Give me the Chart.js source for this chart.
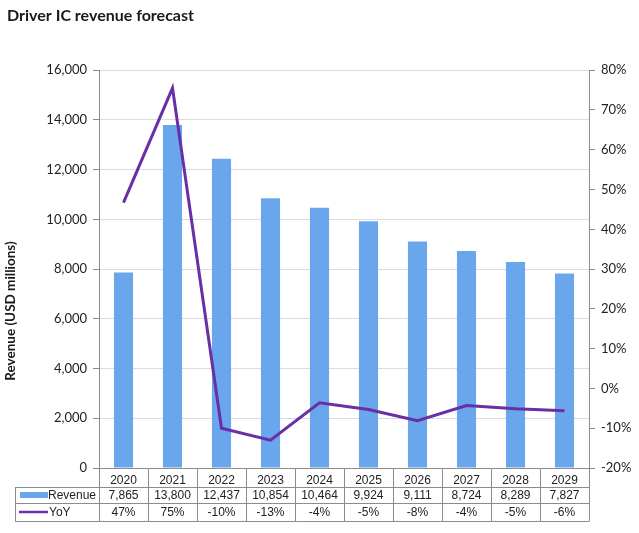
<!DOCTYPE html>
<html>
<head>
<meta charset="utf-8">
<script src="https://cdn.jsdelivr.net/npm/chart.js@4"></script>
<style>
  html, body { margin: 0; padding: 0; background: #fff; }
  #wrap { width: 639px; height: 533px; }
</style>
</head>
<body>
<div id="wrap"><canvas id="chart" width="639" height="533"></canvas></div>
<script>
const years = ['2020', '2021', '2022', '2023', '2024', '2025', '2026', '2027', '2028', '2029'];
const revenue = [7865, 13800, 12437, 10854, 10464, 9924, 9111, 8724, 8289, 7827];
const yoy = [46.7, 75.5, -10, -13, -3.6, -5.3, -8.1, -4.3, -5.1, -5.6];
const revenueLabels = ['7,865', '13,800', '12,437', '10,854', '10,464', '9,924', '9,111', '8,724', '8,289', '7,827'];
const yoyLabels = ['47%', '75%', '-10%', '-13%', '-4%', '-5%', '-8%', '-4%', '-5%', '-6%'];

const barColor = '#6aa6ec';
const lineColor = '#6a2ea6';
const tableFont = '12px "Liberation Sans Narrow", "Liberation Sans", Arial, sans-serif';

// data table under the x axis + y axis title (Excel centres it on plot + table)
const tablePlugin = {
  id: 'dataTable',
  afterDraw(chart) {
    const ctx = chart.ctx;
    const x = chart.scales.x;
    const area = chart.chartArea;
    const w = (area.right - area.left) / years.length;
    const rows = [area.bottom + 1, 487, 503, 521];
    const legLeft = 15;
    ctx.save();
    ctx.strokeStyle = '#8c8c8c';
    ctx.lineWidth = 1;
    ctx.beginPath();
    for (let i = 0; i <= years.length; i++) {
      const px = Math.round(area.left + i * w) + 0.5;
      ctx.moveTo(px, rows[0]);
      ctx.lineTo(px, rows[3]);
    }
    for (let r = 1; r < rows.length; r++) {
      ctx.moveTo(legLeft, rows[r] + 0.5);
      ctx.lineTo(Math.round(area.right) + 0.5, rows[r] + 0.5);
    }
    ctx.moveTo(legLeft + 0.5, rows[1]);
    ctx.lineTo(legLeft + 0.5, rows[3]);
    ctx.stroke();

    ctx.font = tableFont;
    ctx.fillStyle = '#222';
    ctx.textBaseline = 'middle';
    ctx.textAlign = 'center';
    years.forEach((y, i) => {
      const cx = x.getPixelForValue(i);
      ctx.fillText(revenueLabels[i], cx, (rows[1] + rows[2]) / 2 + 1);
      ctx.fillText(yoyLabels[i], cx, (rows[2] + rows[3]) / 2 + 1);
    });

    // legend keys
    ctx.fillStyle = barColor;
    ctx.fillRect(20, 492, 28, 6);
    ctx.strokeStyle = lineColor;
    ctx.lineWidth = 2.5;
    ctx.beginPath();
    ctx.moveTo(19, 512);
    ctx.lineTo(48, 512);
    ctx.stroke();
    ctx.fillStyle = '#222';
    ctx.textAlign = 'right';
    ctx.fillText('Revenue', 96, (rows[1] + rows[2]) / 2 + 1);
    ctx.textAlign = 'left';
    ctx.fillText('YoY', 49, (rows[2] + rows[3]) / 2 + 1);

    // y axis title
    ctx.translate(11, 311);
    ctx.rotate(-Math.PI / 2);
    ctx.font = 'bold 13.5px Lato, "Open Sans", sans-serif';
    ctx.fillStyle = '#1a1a1a';
    ctx.textAlign = 'center';
    ctx.fillText('Revenue (USD millions)', 0, 0);
    ctx.restore();
  }
};

new Chart(document.getElementById('chart'), {
  data: {
    labels: years,
    datasets: [
      {
        type: 'line',
        label: 'YoY',
        data: yoy,
        yAxisID: 'y2',
        borderColor: lineColor,
        borderWidth: 3,
        pointRadius: 0,
        tension: 0,
        order: 0
      },
      {
        type: 'bar',
        label: 'Revenue',
        data: revenue,
        yAxisID: 'y',
        backgroundColor: barColor,
        barPercentage: 0.39,
        categoryPercentage: 1,
        order: 1
      }
    ]
  },
  options: {
    responsive: false,
    animation: false,
    layout: { padding: { left: 7, right: 0, top: 0, bottom: 0 } },
    plugins: {
      legend: { display: false },
      tooltip: { enabled: false },
      title: {
        display: true,
        text: 'Driver IC revenue forecast',
        align: 'start',
        color: '#1a1a1a',
        font: { family: 'Lato, "Open Sans", sans-serif', size: 16, weight: 'bold' },
        padding: { top: 6, bottom: 45 }
      }
    },
    scales: {
      x: {
        grid: { display: false, drawTicks: false },
        border: { display: true, color: '#8c8c8c' },
        ticks: { color: '#222', font: { family: '"Liberation Sans Narrow", "Liberation Sans", Arial', size: 12 }, padding: 5, maxRotation: 0 },
        afterFit(s) { s.height = 65; }
      },
      y: {
        position: 'left',
        min: 0,
        max: 16000,
        ticks: {
          stepSize: 2000,
          padding: 6,
          color: '#222',
          font: { family: 'Lato, "Open Sans", sans-serif', size: 13 },
          callback: v => v.toLocaleString('en-US')
        },
        grid: { color: '#dcdcdc', tickColor: '#8c8c8c', tickLength: 6 },
        border: { color: '#8c8c8c' },
        afterFit(s) { s.width = 92; }
      },
      y2: {
        position: 'right',
        min: -20,
        max: 80,
        ticks: {
          stepSize: 10,
          padding: 6,
          color: '#222',
          font: { family: 'Lato, "Open Sans", sans-serif', size: 13 },
          callback: v => v + '%'
        },
        grid: { drawOnChartArea: false, tickColor: '#8c8c8c', tickLength: 6 },
        border: { color: '#8c8c8c' },
        afterFit(s) { s.width = 50; }
      }
    }
  },
  plugins: [tablePlugin]
});
</script>
</body>
</html>
